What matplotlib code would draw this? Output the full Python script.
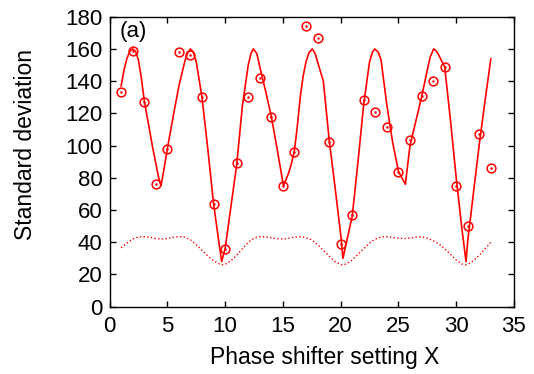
import matplotlib
matplotlib.use("Agg")
import matplotlib.pyplot as plt

plt.rcParams["font.family"] = ["Liberation Sans", "DejaVu Sans"]
plt.rcParams["font.size"] = 16

# measured standard deviation, one point per phase shifter setting
meas_x = list(range(1, 34))
meas_y = [133, 159, 127, 76, 98, 158, 156, 130, 64, 36, 89, 130, 142, 118, 75, 96,
          174, 167, 102, 39, 57, 128, 121, 111.5, 83.5, 103.5, 131, 140, 149, 75, 50, 107, 86]

# fitted curve (solid)
fit_x = [1.0, 1.25, 1.5, 1.75, 2.0, 2.25, 2.5, 2.75, 3.0, 3.25, 3.5, 3.75, 4.0, 4.25, 4.45,
         4.7, 5.0, 5.5, 6.0, 6.5, 6.75, 7.0, 7.25, 7.5, 8.0, 8.5, 9.0, 9.5, 9.7,
         10.0, 10.5, 11.0, 11.5, 12.0, 12.25, 12.45, 12.75, 13.0, 13.5, 14.0, 14.5, 15.05,
         15.5, 15.75, 16.0, 16.25, 16.5, 16.75, 17.0, 17.25, 17.54, 17.8, 18.0, 18.5, 19.0,
         19.5, 20.0, 20.2, 20.5, 21.0, 21.5, 22.0, 22.5, 22.75, 22.95, 23.25, 23.5, 24.0,
         24.5, 25.0, 25.6, 25.8, 26.0, 26.5, 27.0, 27.5, 27.75, 28.05, 28.3, 28.5, 29.0,
         29.5, 30.0, 30.5, 30.85, 31.0, 31.5, 32.0, 32.5, 33.0]
fit_y = [137, 147, 154, 158.5, 160, 158.5, 153, 142, 128, 118, 108, 98, 89, 80, 75,
         85, 98, 118, 137, 152, 157.5, 160, 158, 152, 130, 98, 64, 38, 28,
         36, 62, 88, 125, 150, 157.5, 160, 157, 149, 134, 118, 98, 75,
         83, 89, 97, 112, 130, 143, 152, 157.5, 160, 157, 152, 140, 104,
         75, 45, 30, 40, 56, 90, 126, 152, 158, 160, 158, 153, 125,
         102, 84, 76, 88, 100, 115, 130, 147, 155, 160, 158.5, 156, 149,
         116, 80, 48, 28, 41, 71, 101, 128, 154]

# lower dotted curve
low_x = [1.0, 1.5, 2.0, 2.5, 3.0, 3.5, 4.0, 4.5, 5.0, 5.5, 6.0, 6.5, 7.0, 7.5, 8.0, 8.5,
         9.0, 9.5, 9.8, 10.0, 10.5, 11.0, 11.5, 12.0, 12.5, 13.0, 13.5, 14.0, 14.5, 15.0,
         15.5, 16.0, 16.5, 17.0, 17.5, 18.0, 18.5, 19.0, 19.5, 20.0, 20.2, 20.5, 21.0,
         21.5, 22.0, 22.5, 23.0, 23.5, 24.0, 24.5, 25.0, 25.5, 26.0, 26.5, 27.0, 27.5,
         28.0, 28.5, 29.0, 29.5, 30.0, 30.5, 30.8, 31.0, 31.5, 32.0, 32.5, 33.0]
low_y = [36.5, 39.5, 42, 43.3, 43.5, 43, 42.3, 42, 42.3, 43, 43.5, 43.2, 41.5, 38.5, 35, 31.5,
         28.5, 26.5, 26, 26.3, 28.5, 32, 36, 40, 42.5, 43.5, 43.3, 42.8, 42.2, 42,
         42.5, 43.2, 43.5, 42.8, 41.5, 38.5, 35, 31.5, 28, 26.2, 26, 26.5, 29,
         32.5, 36, 39.5, 42, 43.3, 43.5, 43, 42.5, 42.3, 42.6, 43.2, 43.3, 42.5,
         41, 39, 36, 32.5, 29, 26.5, 26, 26.3, 28.5, 32, 36, 40]

red = "#ff0000"

fig = plt.figure(figsize=(5.34, 3.74), dpi=100)
ax = fig.add_axes([0.2052, 0.18, 0.7573, 0.7753])

ax.plot(fit_x, fit_y, color=red, lw=1.2)
ax.plot(low_x, low_y, color=red, lw=1.0, linestyle=":")
ax.plot(meas_x, meas_y, linestyle="none", marker="o", ms=6.3, mfc="none", mec=red, mew=1.1)
ax.plot(meas_x, meas_y, linestyle="none", marker="o", ms=1.8, mfc=red, mec=red, mew=0)

ax.text(0.9, 171, "(a)", va="center", ha="left", fontsize=16)

ax.set_xlim(0, 35)
ax.set_ylim(0, 180)
ax.set_xticks(range(0, 36, 5))
ax.set_yticks(range(0, 181, 20))
ax.tick_params(direction="in", top=True, right=True, length=4, width=1, labelsize=16)
ax.tick_params(axis="x", pad=7)
ax.tick_params(axis="y", pad=5)
for s in ax.spines.values():
    s.set_linewidth(1.0)

ax.set_xlabel("Phase shifter setting X", fontsize=16.5)
ax.set_ylabel("Standard deviation", fontsize=16.5)
ax.xaxis.set_label_coords(0.533, -0.135)
ax.yaxis.set_label_coords(-0.18, 0.561)

fig.savefig("out.png", dpi=100)
